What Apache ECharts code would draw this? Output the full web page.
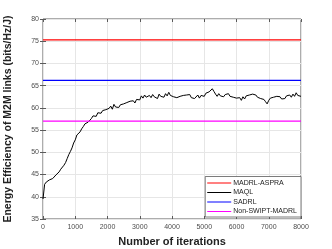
<!DOCTYPE html>
<html>
<head>
<meta charset="utf-8">
<script src="https://cdn.jsdelivr.net/npm/echarts@6/dist/echarts.min.js"></script>
<style>html,body{margin:0;padding:0;background:#fff}#c{width:332px;height:249px}</style>
</head>
<body>
<div id="c"></div>
<script>
const seriesNames = ['MADRL-ASPRA', 'MAQL', 'SADRL', 'Non-SWIPT-MADRL'];
const seriesColors = ['#ff0000', '#000000', '#0000ff', '#ff00ff'];
const xTicks = [0, 1000, 2000, 3000, 4000, 5000, 6000, 7000, 8000];
const yTicks = [35, 40, 45, 50, 55, 60, 65, 70, 75, 80];
const xRange = [0, 8000];
const aspraLevel = 75.3;
const sadrlLevel = 66.2;
const nonSwiptLevel = 57.0;
const maqlIterStep = 50;
const maqlValues = [
39.5,42.8,43.3,43.6,43.8,43.7,44.1,44.3,44.9,45.3,
45.6,46.2,46.4,47.1,47.7,48.6,49.5,50.2,51.0,52.1,
52.8,53.9,54.1,54.6,55.3,55.8,56.4,56.2,56.8,57.1,
57.6,58.2,58.5,58.1,58.9,59.2,58.8,59.4,59.1,59.6,
59.3,59.9,60.4,59.7,60.8,60.2,60.6,60.1,60.7,60.3,
60.9,60.5,61.2,60.8,61.5,61.1,61.6,61.1,61.9,62.2,
61.8,62.7,62.2,62.9,62.4,62.1,62.8,62.3,63.0,62.5,
62.7,62.1,63.1,62.6,62.9,62.4,63.2,62.7,63.5,62.8,
63.1,62.5,62.9,62.3,62.1,62.6,62.2,62.8,62.4,62.9,
62.6,63.0,62.3,62.7,62.1,62.5,62.9,62.2,62.8,63.2,
62.6,63.3,63.0,63.6,63.4,64.3,63.7,63.1,62.6,63.2,
62.7,63.1,62.5,63.0,62.8,63.2,62.6,62.9,62.4,62.8,
62.2,61.8,62.3,61.7,62.5,62.0,62.7,62.3,62.9,62.5,
63.1,62.7,62.9,62.4,62.8,62.1,62.5,61.9,61.4,60.9,
61.7,62.2,61.8,62.4,62.0,62.6,62.2,62.5,62.0,62.4,
62.1,62.7,62.3,62.9,62.4,63.1,62.6,63.4,62.8,63.2,
62.6
];

const maqlData = maqlValues.map((v, i) => [i * maqlIterStep, v]);
const flat = lvl => [[xRange[0], lvl], [xRange[1], lvl]];

const font = 'Liberation Sans, Arial, Helvetica, sans-serif';
const chart = echarts.init(document.getElementById('c'), null, {renderer: 'canvas'});
const axisGray = '#5a5a5a';

const baseX = {
  type: 'value', min: xTicks[0], max: xTicks[xTicks.length - 1], interval: 1000,
  axisLine: {show: false},
  axisTick: {show: true, inside: true, length: 3, lineStyle: {color: axisGray}},
  splitLine: {show: false}
};
const baseY = {
  type: 'value', min: yTicks[0], max: yTicks[yTicks.length - 1], interval: 5,
  axisLine: {show: false},
  axisTick: {show: true, inside: true, length: 3, lineStyle: {color: axisGray}},
  splitLine: {show: false}
};

chart.setOption({
  animation: false,
  backgroundColor: '#ffffff',
  grid: {left: 43, right: 31, top: 19, bottom: 30, containLabel: false, outerBoundsMode: 'none',
         show: true, borderColor: axisGray, borderWidth: 1, backgroundColor: 'transparent'},
  legend: {
    data: seriesNames,
    orient: 'vertical',
    right: 31, bottom: 32,
    width: 97,
    padding: [3, 4, 2, 2],
    itemGap: 2.5,
    itemWidth: 24, itemHeight: 1,
    icon: 'rect',
    backgroundColor: '#ffffff',
    borderColor: axisGray, borderWidth: 0.8, borderRadius: 0,
    textStyle: {fontFamily: font, fontSize: 7, color: '#222', padding: [0, 0, 0, -3]}
  },
  xAxis: [
    Object.assign({}, baseX, {
      position: 'bottom',
      name: 'Number of iterations', nameLocation: 'middle', nameGap: 17,
      nameTextStyle: {fontFamily: font, fontSize: 11, fontWeight: 'bold', color: '#222'},
      axisLabel: {fontFamily: font, fontSize: 7, color: '#4d4d4d', margin: 5, formatter: v => String(v)},
      splitLine: {show: true, lineStyle: {color: '#e6e6e6', width: 1}}
    }),
    Object.assign({}, baseX, {position: 'top', axisLabel: {show: false}})
  ],
  yAxis: [
    Object.assign({}, baseY, {
      position: 'left',
      name: 'Energy Efficiency of M2M links (bits/Hz/J)', nameLocation: 'middle', nameGap: 29, nameRotate: 90,
      nameTextStyle: {fontFamily: font, fontSize: 10.5, fontWeight: 'bold', color: '#222'},
      axisLabel: {fontFamily: font, fontSize: 7, color: '#4d4d4d', margin: 4},
      splitLine: {show: true, lineStyle: {color: '#e6e6e6', width: 1}}
    }),
    Object.assign({}, baseY, {position: 'right', axisLabel: {show: false}})
  ],
  series: [
    {name: seriesNames[0], type: 'line', data: flat(aspraLevel), showSymbol: false, color: seriesColors[0], lineStyle: {width: 1.2}},
    {name: seriesNames[1], type: 'line', data: maqlData, showSymbol: false, color: seriesColors[1], lineStyle: {width: 1}},
    {name: seriesNames[2], type: 'line', data: flat(sadrlLevel), showSymbol: false, color: seriesColors[2], lineStyle: {width: 1.2}},
    {name: seriesNames[3], type: 'line', data: flat(nonSwiptLevel), showSymbol: false, color: seriesColors[3], lineStyle: {width: 1.2}}
  ]
});
</script>
</body>
</html>
